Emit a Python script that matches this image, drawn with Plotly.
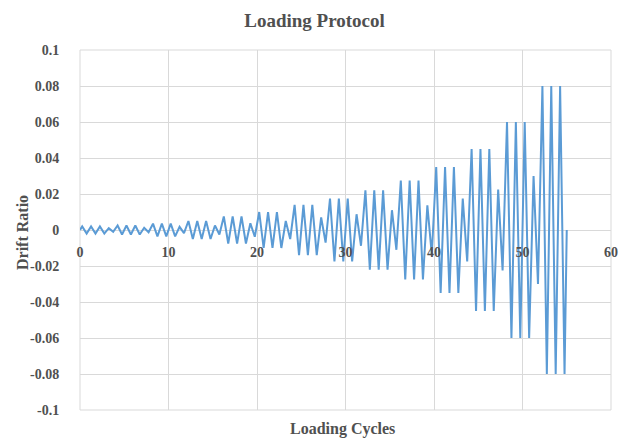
import plotly.graph_objects as go

# Drift ratio amplitude of each loading cycle (positive peak / negative trough)
cycle_index = list(range(55))
peak_drift = [
    0.002, 0.002, 0.002, 0.001,
    0.0025, 0.0025, 0.0025, 0.00125,
    0.0035, 0.0035, 0.0035, 0.00175,
    0.005, 0.005, 0.005, 0.0025,
    0.0075, 0.0075, 0.0075, 0.00375,
    0.01, 0.01, 0.01, 0.005,
    0.014, 0.014, 0.014, 0.007,
    0.0175, 0.0175, 0.0175, 0.00875,
    0.022, 0.022, 0.022, 0.011,
    0.0275, 0.0275, 0.0275, 0.01375,
    0.035, 0.035, 0.035, 0.0175,
    0.045, 0.045, 0.045, 0.0225,
    0.06, 0.06, 0.06, 0.03,
    0.08, 0.08, 0.08,
]
trough_drift = [
    -0.002, -0.002, -0.002, -0.001,
    -0.0025, -0.0025, -0.0025, -0.00125,
    -0.0035, -0.0035, -0.0035, -0.00175,
    -0.005, -0.005, -0.005, -0.0025,
    -0.0075, -0.0075, -0.0075, -0.00375,
    -0.01, -0.01, -0.01, -0.005,
    -0.014, -0.014, -0.014, -0.007,
    -0.0175, -0.0175, -0.0175, -0.00875,
    -0.022, -0.022, -0.022, -0.011,
    -0.0275, -0.0275, -0.0275, -0.01375,
    -0.035, -0.035, -0.035, -0.0175,
    -0.045, -0.045, -0.045, -0.0225,
    -0.06, -0.06, -0.06, -0.03,
    -0.08, -0.08, -0.08,
]
y_tickvals = [0.1, 0.08, 0.06, 0.04, 0.02, 0, -0.02, -0.04, -0.06, -0.08, -0.1]
y_ticktext = ["0.1", "0.08", "0.06", "0.04", "0.02", "0", "-0.02", "-0.04", "-0.06", "-0.08", "-0.1"]
x_tickvals = [0, 10, 20, 30, 40, 50, 60]

xs, ys = [0], [0]
for i, p, t in zip(cycle_index, peak_drift, trough_drift):
    xs += [i + 0.25, i + 0.75]
    ys += [p, t]
xs.append(len(cycle_index))
ys.append(0)

TXT = "#505050"
FONT = "Liberation Serif"
GRID = "#d9d9d9"

# page body has an 8px default margin; figure is sized so it fits the 629x438 window
W, H = 621, 430

fig = go.Figure(go.Scatter(x=xs, y=ys, mode="lines",
                           line=dict(color="#5B9BD5", width=2), hoverinfo="skip"))

fig.update_layout(
    width=W, height=H,
    margin=dict(l=72, r=18, t=42, b=28),
    paper_bgcolor="white", plot_bgcolor="white",
    showlegend=False,
    title=dict(text="<b>Loading Protocol</b>", x=306.5 / W, xref="container",
               y=1 - 12 / H, yref="container", yanchor="middle", xanchor="center",
               font=dict(family=FONT, size=19, color=TXT)),
    xaxis=dict(range=[0, 60], tickvals=x_tickvals, showgrid=True, gridcolor=GRID,
               gridwidth=1, zeroline=False, showline=False,
               anchor="free", position=0.5,
               ticks="outside", ticklen=9, tickcolor="rgba(0,0,0,0)",
               tickfont=dict(family=FONT, size=14, color=TXT, weight="bold")),
    yaxis=dict(range=[-0.1, 0.1], tickvals=y_tickvals, ticktext=y_ticktext,
               showgrid=True, gridcolor=GRID, gridwidth=1, zeroline=False, showline=False,
               ticks="outside", ticklen=17, tickcolor="rgba(0,0,0,0)",
               tickfont=dict(family=FONT, size=14, color=TXT, weight="bold")),
    annotations=[
        dict(text="<b>Drift Ratio</b>", xref="paper", yref="paper",
             x=(22 - 80) / 531, y=(410 - 233) / 360, xanchor="center", yanchor="middle",
             textangle=-90, showarrow=False, font=dict(family=FONT, size=16, color=TXT)),
        dict(text="<b>Loading Cycles</b>", xref="paper", yref="paper",
             x=(342 - 80) / 531, y=(410 - 429) / 360, xanchor="center", yanchor="middle",
             showarrow=False, font=dict(family=FONT, size=16, color=TXT)),
    ],
)
fig.add_shape(type="rect", xref="paper", yref="paper", x0=0, x1=1, y0=0, y1=1,
              line=dict(color=GRID, width=1), layer="below")

fig.write_html("out.html")
